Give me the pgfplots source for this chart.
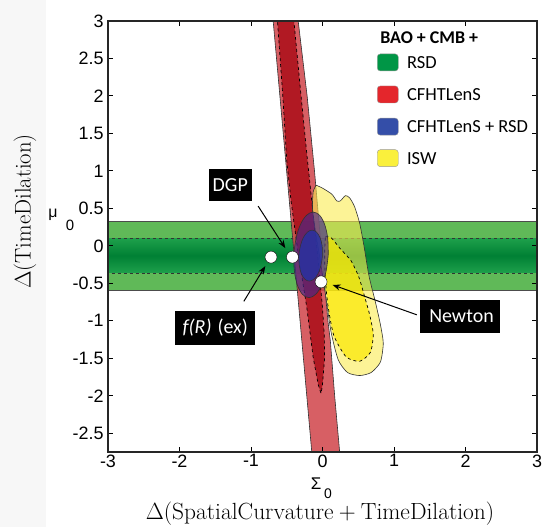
\RequirePackage{fix-cm}
\documentclass[border=0pt]{standalone}
\usepackage{fontspec}
\usepackage{pgfplots}
\pgfplotsset{compat=1.18}
\usetikzlibrary{arrows.meta}
\newfontfamily\arialf{Liberation Sans}
\newfontfamily\calib{Carlito}
\definecolor{gL}{RGB}{96,185,88}
\definecolor{gD1}{RGB}{0,128,52}
\definecolor{gD2}{RGB}{30,160,75}
\definecolor{rL}{RGB}{208,67,73}
\definecolor{rD}{RGB}{171,13,24}
\definecolor{yL}{RGB}{250,235,80}
\definecolor{yD}{RGB}{250,232,0}
\definecolor{bL}{RGB}{70,40,140}
\definecolor{bD}{RGB}{40,50,160}
\definecolor{legG}{RGB}{0,150,70}
\definecolor{legR}{RGB}{228,38,44}
\definecolor{legB}{RGB}{52,78,168}
\definecolor{legY}{RGB}{250,240,60}
\begin{document}
\begin{tikzpicture}
\path[use as bounding box] (-108bp,-75bp) rectangle (440bp,452bp);
\fill[black!3] (-108bp,-75bp) rectangle (-62bp,452bp);
\begin{axis}[
  at={(0bp,0bp)}, anchor=south west,
  width=429bp, height=431bp, scale only axis,
  xmin=-3, xmax=3, ymin=-2.75, ymax=3,
  xtick={-3,-2,-1,0,1,2,3},
  ytick={-2.5,-2,-1.5,-1,-0.5,0,0.5,1,1.5,2,2.5,3},
  tick align=inside, major tick length=5bp,
  tick style={black, line width=0.9bp},
  axis line style={line width=1.1bp, black!85},
  axis on top,
  tick label style={font=\arialf\fontsize{18}{18}\selectfont},
  /pgf/number format/assume math mode=true,
  yticklabel style={xshift=-1bp},
  xticklabel style={yshift=1bp},
]
% green band (RSD)
\addplot[fill=gL, draw=black!70, line width=0.6bp] coordinates {(-3.2,-0.59) (3.2,-0.59) (3.2,0.33) (-3.2,0.33)} -- cycle;
\addplot[draw=none, top color=gD2, bottom color=gD2, middle color=gD1] coordinates {(-3.2,-0.36) (3.2,-0.36) (3.2,0.10) (-3.2,0.10)} -- cycle;
\addplot[black!80, dashed, line width=0.7bp] coordinates {(-3.2,0.10) (3.2,0.10)};
\addplot[black!80, dashed, line width=0.7bp] coordinates {(-3.2,-0.36) (3.2,-0.36)};
% red band (CFHTLenS)
\addplot[fill=rL, fill opacity=0.85, draw=black!80, line width=0.6bp] coordinates {
 (-0.718,3.3) (-0.69,3) (-0.596,2) (-0.502,1) (-0.408,0) (-0.314,-1) (-0.22,-2) (-0.15,-2.75) (-0.126,-3)
 (0.264,-3) (0.24,-2.75) (0.17,-2) (0.11,-1.27) (0.076,-1) (-0.02,0) (-0.112,1) (-0.215,2) (-0.34,3) (-0.378,3.3)} -- cycle;
\addplot[fill=rD, fill opacity=0.85, draw=black, dashed, line width=0.7bp] coordinates {
 (-0.645,3.3) (-0.63,3) (-0.555,2) (-0.50,1.14) (-0.44,0.6) (-0.34,-0.1) (-0.22,-0.82) (-0.13,-1.49) (-0.06,-1.85) (-0.02,-1.97)
 (0.0,-1.85) (0.03,-1.49) (0.025,-1.2) (0.0,-0.82) (-0.06,-0.2) (-0.15,0.6) (-0.21,1.14) (-0.30,2) (-0.40,3) (-0.43,3.3)} -- cycle;
% yellow (ISW)
\addplot[fill=yL, fill opacity=0.6, draw=black!80, line width=0.6bp, smooth, tension=0.4] coordinates {
 (-0.09,0.81) (0.0,0.77) (0.13,0.69) (0.20,0.60) (0.25,0.60) (0.32,0.67) (0.38,0.64) (0.45,0.52) (0.52,0.30)
 (0.58,0.0) (0.65,-0.4) (0.74,-0.75) (0.81,-1.05) (0.85,-1.3) (0.81,-1.55) (0.68,-1.69) (0.52,-1.73) (0.35,-1.69)
 (0.22,-1.52) (0.12,-1.15) (0.05,-0.7) (-0.03,-0.2) (-0.10,0.2) (-0.14,0.5) (-0.13,0.72) (-0.09,0.81)};
\addplot[fill=yD, fill opacity=0.7, draw=black, dashed, line width=0.7bp, smooth, tension=0.4] coordinates {
 (0.04,0.12) (0.12,0.11) (0.25,-0.04) (0.40,-0.2) (0.51,-0.42) (0.59,-0.68) (0.66,-0.92) (0.71,-1.18) (0.67,-1.42)
 (0.52,-1.54) (0.33,-1.48) (0.16,-1.2) (0.08,-0.82) (0.04,-0.45) (0.03,-0.1) (0.04,0.12)};
% blue (CFHTLenS + RSD)
\addplot[fill=bL, fill opacity=0.65, draw=black!80, line width=0.6bp, smooth, tension=0.6] coordinates {
 (0.08,-0.12) (0.073,0.098) (0.031,0.283) (-0.040,0.407) (-0.13,0.45) (-0.224,0.407) (-0.309,0.283) (-0.370,0.098)
 (-0.40,-0.12) (-0.393,-0.338) (-0.351,-0.523) (-0.280,-0.647) (-0.19,-0.69) (-0.096,-0.647) (-0.011,-0.523) (0.050,-0.338) (0.08,-0.12)};
\addplot[fill=bD, fill opacity=0.85, draw=black!80, line width=0.5bp, smooth, tension=0.6] coordinates {
 (0.0,-0.13) (-0.005,0.0) (-0.034,0.11) (-0.084,0.184) (-0.145,0.21) (-0.210,0.184) (-0.268,0.11) (-0.309,0.0)
 (-0.33,-0.13) (-0.325,-0.26) (-0.296,-0.37) (-0.246,-0.444) (-0.185,-0.47) (-0.120,-0.444) (-0.062,-0.37) (-0.021,-0.26) (0.0,-0.13)};
% model points
\addplot[only marks, mark=*, mark size=6bp, mark options={fill=white, draw=none}] coordinates {(-0.72,-0.15) (-0.42,-0.15) (-0.02,-0.48)};
% arrows
\draw[-{Stealth[length=8bp,width=6bp]}, line width=1bp] (axis cs:-0.90,0.53) -- (axis cs:-0.52,-0.03);
\draw[-{Stealth[length=8bp,width=6bp]}, line width=1bp] (axis cs:-1.10,-0.74) -- (axis cs:-0.80,-0.27);
\draw[-{Stealth[length=8bp,width=6bp]}, line width=1bp] (axis cs:1.32,-0.92) -- (axis cs:0.14,-0.52);
% labels
\node[fill=black, text=white, font=\calib\fontsize{20}{20}\selectfont, inner sep=0pt, minimum width=43bp, minimum height=32bp] at (axis cs:-1.29,0.815) {DGP};
\node[fill=black, text=white, font=\calib\fontsize{20}{20}\selectfont, inner sep=0pt, minimum width=80bp, minimum height=34bp] at (axis cs:-1.50,-1.09) {\textit{f(R)}\hspace{0.3em}(ex)};
\node[fill=black, text=white, font=\calib\fontsize{20}{20}\selectfont, inner sep=0pt, minimum width=80bp, minimum height=33bp] at (axis cs:1.93,-0.94) {\hspace{0.1em}Newton};
% legend
\node[anchor=west, font=\calib\bfseries\fontsize{18}{18}\selectfont, inner sep=0pt] at (axis cs:0.805,2.78) {BAO + CMB +};
\node[fill=legG, draw=black!40, rounded corners=3bp, minimum width=21bp, minimum height=17bp, inner sep=0pt] at (axis cs:0.913,2.447) {};
\node[fill=legR, draw=black!40, rounded corners=3bp, minimum width=21bp, minimum height=17bp, inner sep=0pt] at (axis cs:0.913,2.02) {};
\node[fill=legB, draw=black!40, rounded corners=3bp, minimum width=21bp, minimum height=17bp, inner sep=0pt] at (axis cs:0.913,1.59) {};
\node[fill=legY, draw=black!40, rounded corners=3bp, minimum width=21bp, minimum height=17bp, inner sep=0pt] at (axis cs:0.913,1.17) {};
\node[anchor=west, font=\calib\fontsize{18.5}{18.5}\selectfont, inner sep=0pt] at (axis cs:1.18,2.447) {RSD};
\node[anchor=west, font=\calib\fontsize{18.5}{18.5}\selectfont, inner sep=0pt] at (axis cs:1.18,2.02) {CFHTLenS};
\node[anchor=west, font=\calib\fontsize{18.5}{18.5}\selectfont, inner sep=0pt] at (axis cs:1.18,1.59) {CFHTLenS + RSD};
\node[anchor=west, font=\calib\fontsize{18.5}{18.5}\selectfont, inner sep=0pt] at (axis cs:1.18,1.17) {ISW};
\end{axis}
% axis labels
\node[font=\arialf\fontsize{16}{16}\selectfont] at (-55bp,237bp) {μ};
\node[font=\arialf\fontsize{15}{15}\selectfont] at (-38bp,227bp) {0};
\node[font=\arialf\fontsize{17}{17}\selectfont] at (208bp,-32bp) {Σ};
\node[font=\arialf\fontsize{14}{14}\selectfont, inner sep=1bp] at (220bp,-42bp) {0};
\node[rotate=90, font=\fontsize{22.8}{24}\selectfont] at (-83bp,240.5bp) {$\Delta(\mathrm{TimeDilation})$};
\node[font=\fontsize{23.5}{24}\selectfont, inner sep=1bp] at (212bp,-62bp) {$\Delta(\mathrm{SpatialCurvature}+\mathrm{TimeDilation})$};
\end{tikzpicture}
\end{document}
